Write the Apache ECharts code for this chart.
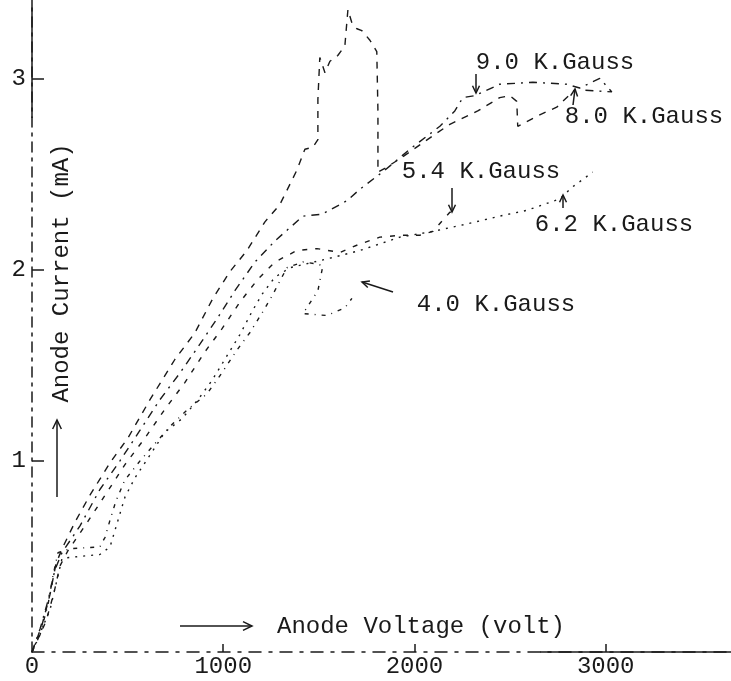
<!DOCTYPE html>
<html>
<head>
<meta charset="utf-8">
<script src="https://cdn.jsdelivr.net/npm/echarts@6/dist/echarts.min.js"></script>
<style>
	html, body { margin: 0; padding: 0; background: #fff; }
	#chart { width: 731px; height: 681px; }
</style>
</head>
<body>
<div id="chart"></div>
<script>
	// tick labels
	var xTickValues = [0, 1000, 2000, 3000];
	var yTickValues = [1, 2, 3];

	// field strength of each curve
	var fieldNames = ['9.0 K.Gauss', '8.0 K.Gauss', '5.4 K.Gauss', '6.2 K.Gauss', '4.0 K.Gauss'];

	// [anode voltage (V), anode current (mA)]
	var g90 = [[0, 0], [42, 0.12], [84, 0.27], [120, 0.43], [157, 0.52], [251, 0.66], [355, 0.85], [460, 1.00],
		[565, 1.16], [669, 1.32], [774, 1.46], [878, 1.61], [972, 1.75], [1061, 1.89], [1166, 2.04], [1270, 2.15],
		[1417, 2.28], [1516, 2.29], [1646, 2.36], [1714, 2.42], [1845, 2.52], [1976, 2.63], [2133, 2.75],
		[2211, 2.83], [2253, 2.90], [2316, 2.91], [2446, 2.97], [2619, 2.98], [2796, 2.97], [2864, 2.95],
		[2969, 3.00], [3032, 2.93], [2864, 2.94]];

	var g80 = [[0, 0], [52, 0.14], [94, 0.30], [125, 0.46], [157, 0.54], [225, 0.68], [303, 0.82], [408, 0.99],
		[502, 1.12], [617, 1.32], [747, 1.53], [852, 1.67], [946, 1.85], [1035, 1.99], [1124, 2.10], [1218, 2.25],
		[1296, 2.34], [1385, 2.52], [1427, 2.63], [1469, 2.64], [1495, 2.68], [1495, 2.89], [1505, 3.11],
		[1532, 3.03], [1558, 3.09], [1599, 3.12], [1636, 3.17], [1652, 3.36], [1673, 3.29], [1699, 3.26],
		[1725, 3.25], [1767, 3.20], [1803, 3.14], [1809, 2.83], [1809, 2.51], [1845, 2.53], [1924, 2.58],
		[2096, 2.70], [2185, 2.76], [2331, 2.83], [2446, 2.90], [2499, 2.91], [2535, 2.88], [2540, 2.75],
		[2655, 2.81], [2744, 2.85], [2838, 2.94]];

	var g54 = [[0, 0], [73, 0.16], [115, 0.31], [146, 0.45], [188, 0.53], [277, 0.66], [382, 0.82], [486, 0.98],
		[591, 1.12], [695, 1.27], [800, 1.41], [904, 1.57], [993, 1.69], [1087, 1.83], [1181, 1.95], [1270, 2.04],
		[1385, 2.10], [1490, 2.11], [1610, 2.09], [1704, 2.13], [1819, 2.17], [1924, 2.18], [2028, 2.18],
		[2096, 2.20], [2185, 2.30], [2227, 2.30]];

	var g62 = [[0, 0], [94, 0.22], [157, 0.49], [251, 0.50], [355, 0.51], [408, 0.55], [450, 0.69], [486, 0.81],
		[538, 0.91], [617, 1.03], [695, 1.15], [784, 1.22], [868, 1.32], [941, 1.42], [1014, 1.54], [1087, 1.66],
		[1150, 1.78], [1202, 1.87], [1270, 1.96], [1349, 2.01], [1558, 2.06], [1714, 2.10], [1924, 2.17],
		[2096, 2.20], [2279, 2.24], [2446, 2.28], [2587, 2.31], [2760, 2.37], [2823, 2.43], [2932, 2.51]];

	var g40 = [[0, 0], [42, 0.09], [84, 0.25], [110, 0.40], [136, 0.52], [199, 0.54], [355, 0.55], [382, 0.60],
		[408, 0.69], [439, 0.79], [486, 0.90], [565, 1.00], [643, 1.09], [732, 1.19], [815, 1.27], [915, 1.35],
		[993, 1.46], [1072, 1.58], [1139, 1.67], [1207, 1.78], [1254, 1.86], [1296, 1.94], [1333, 2.01],
		[1417, 2.04], [1490, 2.03], [1521, 2.02], [1495, 1.89], [1417, 1.77], [1542, 1.76], [1636, 1.80],
		[1673, 1.85]];

	var ink = '#1a1a1a';
	var font = '"Liberation Mono", "DejaVu Sans Mono", monospace';

	function curve(name, data, dash) {
		return {
			name: name,
			type: 'line',
			data: data,
			showSymbol: false,
			smooth: false,
			lineStyle: { color: ink, width: 1.4, type: dash }
		};
	}

	// arrow: shaft plus a small open head at (x2, y2)
	function arrow(x1, y1, x2, y2, head) {
		var a = Math.atan2(y2 - y1, x2 - x1);
		var h = head || 8;
		var p1 = [x2 - h * Math.cos(a - 0.45), y2 - h * Math.sin(a - 0.45)];
		var p2 = [x2 - h * Math.cos(a + 0.45), y2 - h * Math.sin(a + 0.45)];
		return [{
			type: 'line',
			shape: { x1: x1, y1: y1, x2: x2, y2: y2 },
			style: { stroke: ink, lineWidth: 1.5 }
		}, {
			type: 'polyline',
			shape: { points: [p1, [x2, y2], p2] },
			style: { stroke: ink, lineWidth: 1.5, fill: null }
		}];
	}

	function label(text, x, y, rot) {
		return {
			type: 'text',
			x: x,
			y: y,
			rotation: rot || 0,
			style: {
				text: text,
				fill: ink,
				font: '24px ' + font,
				align: 'center',
				verticalAlign: 'middle'
			}
		};
	}

	var graphics = [
		label('Anode Current (mA)', 62, 273, Math.PI / 2),
		label('Anode Voltage (volt)', 421, 627),
		label(fieldNames[0], 555, 63),
		label(fieldNames[1], 644, 117),
		label(fieldNames[2], 481, 172),
		label(fieldNames[3], 614, 225),
		label(fieldNames[4], 496, 305),
		// solid parts of the hand drawn axes
		{ type: 'line', shape: { x1: 32, y1: 0, x2: 32, y2: 118 }, style: { stroke: ink, lineWidth: 1.5 } },
		{ type: 'line', shape: { x1: 540, y1: 652, x2: 731, y2: 652 }, style: { stroke: ink, lineWidth: 1.5 } }
	];
	graphics = graphics
		.concat(arrow(57, 497, 57, 420, 10))
		.concat(arrow(180, 626, 252, 626, 10))
		.concat(arrow(476, 74, 476, 93))
		.concat(arrow(573, 105, 575, 89))
		.concat(arrow(452, 188, 452, 212))
		.concat(arrow(563, 208, 563, 195))
		.concat(arrow(393, 292, 362, 282));

	var chart = echarts.init(document.getElementById('chart'));
	chart.setOption({
		animation: false,
		backgroundColor: '#fff',
		grid: { left: 32, right: 1, top: 2, bottom: 29, containLabel: false },
		xAxis: {
			type: 'value',
			min: 0,
			max: 3650,
			splitLine: { show: false },
			axisLine: { show: true, lineStyle: { color: ink, width: 1.5, type: [12, 8, 3, 8] } },
			axisTick: { show: true, inside: true, length: 8, customValues: xTickValues.slice(1), lineStyle: { color: ink, width: 1.5 } },
			axisLabel: {
				customValues: xTickValues, margin: 3, color: ink, fontSize: 24, fontFamily: font,
				formatter: function (v) { return String(v); }
			}
		},
		yAxis: {
			type: 'value',
			min: 0,
			max: 3.4,
			splitLine: { show: false },
			axisLine: { show: true, lineStyle: { color: ink, width: 1.5, type: [10, 6, 3, 6] } },
			axisTick: { show: true, inside: true, length: 12, customValues: yTickValues, lineStyle: { color: ink, width: 1.5 } },
			axisLabel: {
				customValues: yTickValues, margin: 6, color: ink, fontSize: 24, fontFamily: font,
				formatter: function (v) { return String(v); }
			}
		},
		series: [
			curve(fieldNames[0], g90, [8, 6, 2, 6]),
			curve(fieldNames[1], g80, [7, 7]),
			curve(fieldNames[2], g54, [5, 8]),
			curve(fieldNames[3], g62, [2, 6]),
			curve(fieldNames[4], g40, [4, 6, 1, 6])
		],
		graphic: graphics
	});
</script>
</body>
</html>
